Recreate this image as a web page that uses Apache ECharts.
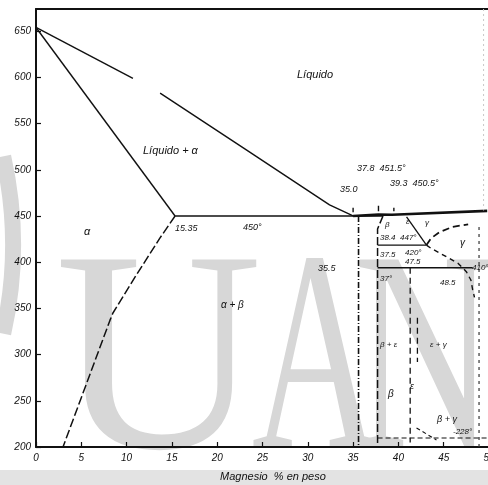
<!DOCTYPE html>
<html><head><meta charset="utf-8">
<script src="https://cdn.jsdelivr.net/npm/echarts@6/dist/echarts.min.js"></script>
<style>html,body{margin:0;padding:0;background:#fff}#c{width:488px;height:485px}</style>
</head><body><div id="c"></div>
<script>
// ---- data (Mg wt%, °C) ----
const xTicks = [0,5,10,15,20,25,30,35,40,45,50];
const yTicks = [200,250,300,350,400,450,500,550,600,650];
const liquidusA1 = [[0,654],[10.7,599]];
const liquidusA2 = [[13.7,583],[23.3,521],[32.4,462],[35.0,450]];
const solidusA = [[0,654],[15.35,450]];
const solvusA = [[15.35,450],[13.67,426],[11.0,385],[8.49,345],[8.16,337],[5.59,269],[2.98,200]];
const eutectic450 = [[15.35,450],[38.3,450]];
const liquidusB = [[35.0,450],[37.8,451.5],[39.3,451.3],[49.8,455.5]];
const betaLeft = [[35.6,450],[35.6,200]];
const betaRight = [[38.3,450],[37.7,436],[37.7,200]];
const diagEps = [[40.9,449],[43.1,418.5]];
const iso418 = [[37.7,418.5],[43.1,418.5]];
const iso394 = [[37.7,394],[48.2,394]];
const gammaUpper = [[43.1,418.5],[43.6,425.8],[44.5,432.3],[46.0,438.3],[47.7,440.9]];
const gammaLower = [[43.1,418.5],[43.6,415],[45.3,405.9],[46.6,398.7],[47.5,389.7],[48.0,380.7],[48.2,370],[48.4,362]];
const gammaRight = [[48.9,438],[48.9,200]];
const eps1 = [[41.3,394],[41.3,205]];
const eps2 = [[42.1,340],[42.1,292]];
const iso210 = [[37.7,209.7],[49.8,209.7]];
const diagLow = [[42.0,220.6],[44.2,207.6]];
const edgeFaint = [[49.4,674],[49.4,456]];
const pointMarks = [[[35.0,454],[35.0,459]],[[37.8,455],[37.8,461]],[[39.5,455],[39.5,459]]];

const chart = echarts.init(document.getElementById('c'), null, {renderer:'canvas'});
const K = '#111';
function ln(data, w, type, color){
  return {type:'line', data, symbol:'none', silent:true, animation:false,
    lineStyle:{color:color||K, width:w||1.5, type:type||'solid'}, z:3};
}
const series = [
  ln(liquidusA1,1.4), ln(liquidusA2,1.4), ln(solidusA,1.4),
  ln(solvusA,1.5,[9,3]), ln(eutectic450,1.3), ln(liquidusB,2.6),
  ln(betaLeft,1.6,[6,2,1,2]), ln(betaRight,1.5,[8,3]),
  ln(diagEps,1.3), ln(iso418,1.3), ln(iso394,1.3),
  ln(gammaUpper,1.8,[7,4]), ln(gammaLower,1.4,[5,4]),
  ln(gammaRight,1.2,[3,4],'#333'), ln(eps1,1.3,[6,4]), ln(eps2,1.3,[6,4]),
  ln(iso210,1.1,[5,3]), ln(diagLow,1.1,[4,3]), ln(edgeFaint,1,[2,3],'#c8c8c8')
];
pointMarks.forEach(m=>series.push(ln(m,1.4)));

function t(text,x,y,size,extra){
  return Object.assign({type:'text', z:10, silent:true,
    style:{text, x, y, fill:'#111', font:'italic '+(size||10)+'px "Liberation Sans", sans-serif', verticalAlign:'middle'}}, extra||{});
}
const WM = '#d7d7d7';
const wmFont = '287px "Liberation Serif", serif';
const graphics = [
  {type:'rect', z:0, silent:true, shape:{x:0,y:470,width:488,height:15}, style:{fill:'#e3e3e3'}},
  {type:'arc', z:0, silent:true, shape:{cx:-393,cy:245,r:406,startAngle:-0.22,endAngle:0.22}, style:{stroke:WM,lineWidth:16,fill:null}},
  {type:'text', z:0, silent:true, x:55, y:372, style:{text:'U', x:0, y:0, font:wmFont, fill:WM, verticalAlign:'middle'}},
  {type:'text', z:0, silent:true, x:316, y:372, scaleX:0.62, style:{text:'A', x:0, y:0, font:wmFont, fill:WM, verticalAlign:'middle', align:'center'}},
  {type:'text', z:0, silent:true, x:354, y:372, scaleX:0.68, style:{text:'N', x:0, y:0, font:wmFont, fill:WM, verticalAlign:'middle'}},
  t('Líquido',297,75,11),
  t('Líquido + α',143,151,11),
  t('α',84,232,11),
  t('α + β',221,305,10),
  t('15.35',175,228,9),
  t('450°',243,227,9),
  t('35.5',318,268,9),
  t('35.0',340,189,9),
  t('37.8  451.5°',357,168,9),
  t('39.3  450.5°',390,183,9),
  t('38.4  447°',380,238,8),
  t('37.5',380,255,8),
  t('420°',405,253,8),
  t('47.5',405,262,8),
  t('37°',380,279,8),
  t('410°',472,268,8),
  t('48.5',440,283,8),
  t('β',385,225,8), t('ε',406,222,8), t('γ',425,223,8), t('γ',460,243,10),
  t('β + ε',380,345,8),
  t('ε + γ',430,345,8),
  t('β',388,394,10),
  t('ε',410,386,9),
  t('β + γ',437,419,9),
  t('-228°',453,432,8),
  t('Magnesio  % en peso',220,477,11)
];

chart.setOption({
  animation:false,
  grid:{left:36,width:453,top:9,height:438,outerBoundsMode:'none',containLabel:false},
  xAxis:[{type:'value',min:0,max:50,interval:5,
    axisLine:{lineStyle:{color:K,width:2}},
    axisTick:{inside:true,length:5,lineStyle:{color:K,width:1.2}},
    axisLabel:{color:'#111',fontSize:10,fontStyle:'italic',fontFamily:'Liberation Sans',margin:6,
      formatter:v=>xTicks.indexOf(v)>=0?String(v):''},
    splitLine:{show:false}},
    {type:'value',min:0,max:50,position:'top',axisLine:{lineStyle:{color:K,width:2}},
     axisTick:{show:false},axisLabel:{show:false},splitLine:{show:false}}],
  yAxis:{type:'value',min:200,max:674,interval:50,
    axisLine:{lineStyle:{color:K,width:2}},
    axisTick:{inside:true,length:5,lineStyle:{color:K,width:1.2}},
    axisLabel:{color:'#111',fontSize:10,fontStyle:'italic',fontFamily:'Liberation Sans',margin:5,
      showMaxLabel:false, formatter:v=>yTicks.indexOf(v)>=0?String(v):''},
    splitLine:{show:false}},
  graphic:graphics,
  series
});
</script></body></html>
